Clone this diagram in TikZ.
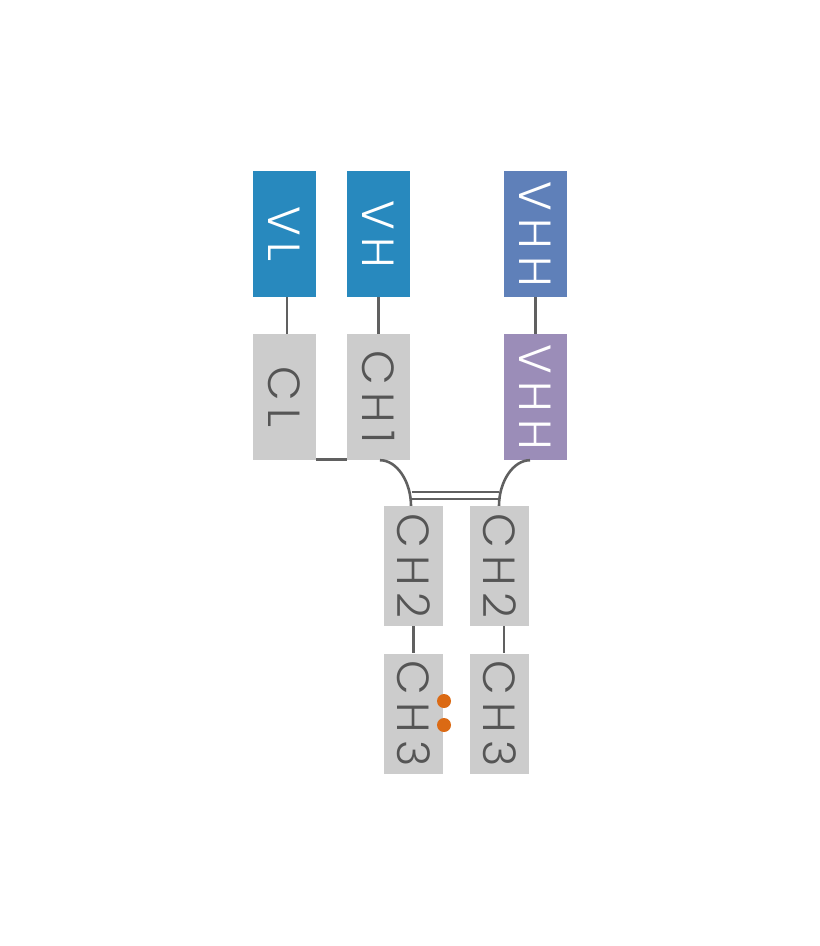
\documentclass[tikz,border=0pt]{standalone}
\usepackage{fontspec}
\setmainfont{Poppins Light}[LetterSpace=16]
\definecolor{vblue}{HTML}{2889BE}
\definecolor{vhhblue}{HTML}{5F80B9}
\definecolor{vhhpurple}{HTML}{9B8DB8}
\definecolor{cgray}{HTML}{CCCCCC}
\definecolor{lgray}{HTML}{606060}
\definecolor{tgray}{HTML}{555555}
\definecolor{dorange}{HTML}{DB6A14}
\newcommand{\vtext}[1]{\rotatebox[origin=c]{-90}{#1}}
\begin{document}
\begin{tikzpicture}[x=1pt,y=-1pt,
  dom/.style={rectangle, inner sep=0pt, minimum width=63pt, minimum height=126pt,
    font=\fontsize{45}{45}\selectfont},
  cdom/.style={rectangle, inner sep=0pt, minimum width=59pt, minimum height=120pt,
    font=\fontsize{45}{45}\selectfont},
  vbox/.style={dom, fill=vblue, text=white},
  vhhA/.style={dom, fill=vhhblue, text=white},
  vhhB/.style={dom, fill=vhhpurple, text=white},
  graybox/.style={dom, fill=cgray, text=tgray},
  graysm/.style={cdom, fill=cgray, text=tgray},
  link/.style={draw=lgray, line width=2.6pt},
  bond/.style={draw=lgray, line width=2pt},
  dot/.style={circle, fill=dorange, inner sep=0pt, minimum size=14pt}]
\useasboundingbox (0,0) rectangle (820,946);
% heavy/light variable domains
\node[vbox] (VL) at (284.5,234) {\vtext{VL}};
\node[vbox] (VH) at (378.5,234) {\vtext{VH}};
\node[vhhA] (VHHa) at (535.5,234) {\vtext{VHH}};
% second row
\node[graybox] (CL) at (284.5,397) {\vtext{CL}};
\node[graybox] (CH1) at (378.5,397) {\vtext{CH1}};
\node[vhhB] (VHHb) at (535.5,397) {\vtext{VHH}};
% Fc
\node[graysm] (CH2L) at (413.5,566) {\vtext{CH2}};
\node[graysm] (CH2R) at (499.5,566) {\vtext{CH2}};
\node[graysm] (CH3L) at (413.5,713.5) {\vtext{CH3}};
\node[graysm] (CH3R) at (499.5,713.5) {\vtext{CH3}};
% connectors
\draw[link] ([xshift=2.5pt]VL.south) -- ([xshift=2.5pt]CL.north);
\draw[link] (VH.south) -- (CH1.north);
\draw[link] (VHHa.south) -- (VHHb.north);
\draw[link] ([yshift=1pt]CL.south east) -- ([yshift=1pt]CH1.south west);
\draw[link] ([xshift=1.5pt]CH1.south) .. controls +(17,0) and +(0,-24) .. ([xshift=-2.5pt]CH2L.north);
\draw[link] ([xshift=-5.5pt]VHHb.south) .. controls +(-17,0) and +(0,-24) .. ([xshift=-0.5pt]CH2R.north);
\draw[bond] ([xshift=-2pt,yshift=14pt]CH2L.north) -- ([xshift=-0.5pt,yshift=14pt]CH2R.north);
\draw[bond] ([xshift=-2pt,yshift=7pt]CH2L.north) -- ([xshift=-0.5pt,yshift=7pt]CH2R.north);
\draw[link] (CH2L.south) -- (CH3L.north);
\draw[link] ([xshift=4.5pt]CH2R.south) -- ([xshift=4.5pt]CH3R.north);
% knob dots
\node[dot] (d1) at (444,701) {};
\node[dot] (d2) at (444,725) {};
\end{tikzpicture}
\end{document}
